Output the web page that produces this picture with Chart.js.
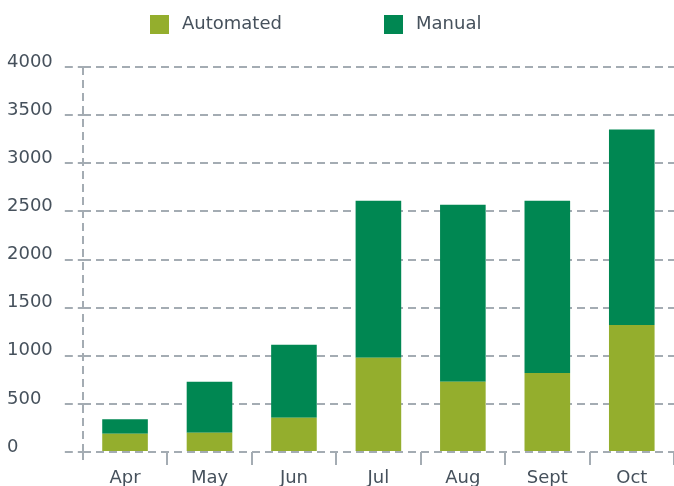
<!DOCTYPE html>
<html>
<head>
<meta charset="utf-8">
<script src="https://cdn.jsdelivr.net/npm/chart.js@4/dist/chart.umd.min.js"></script>
<style>
  html, body { margin: 0; padding: 0; background: #fff; }
</style>
</head>
<body>
<canvas id="chart" width="674" height="486"></canvas>
<script>
const months = ['Apr', 'May', 'Jun', 'Jul', 'Aug', 'Sept', 'Oct'];
const automated = [190, 200, 355, 980, 730, 820, 1320];
const manual = [150, 530, 760, 1630, 1840, 1790, 2030];
const yMax = 4000;
const yStep = 500;

const textColor = '#46515c';
const gridColor = '#a4acb3';
const font = { family: '"DejaVu Sans", sans-serif', size: 18, lineHeight: 1 };

// legend drawn by hand: the two items sit far apart, left of centre
const topLegend = {
  id: 'topLegend',
  afterDraw(chart) {
    const ctx = chart.ctx;
    const starts = [150, 384];
    ctx.save();
    ctx.font = '18px "DejaVu Sans", sans-serif';
    ctx.textBaseline = 'middle';
    chart.data.datasets.forEach((ds, i) => {
      ctx.fillStyle = ds.backgroundColor;
      ctx.fillRect(starts[i], 15, 19, 19);
      ctx.fillStyle = textColor;
      ctx.fillText(ds.label, starts[i] + 32, 24);
    });
    ctx.restore();
  }
};

new Chart(document.getElementById('chart'), {
  type: 'bar',
  data: {
    labels: months,
    datasets: [
      {
        label: 'Automated',
        data: automated,
        backgroundColor: '#94ae2d',
        barPercentage: 0.54,
        categoryPercentage: 1.0
      },
      {
        label: 'Manual',
        data: manual,
        backgroundColor: '#008752',
        barPercentage: 0.54,
        categoryPercentage: 1.0
      }
    ]
  },
  options: {
    responsive: false,
    animation: false,
    devicePixelRatio: 1,
    layout: { padding: { top: 67, left: 7, right: 0, bottom: -5 } },
    plugins: {
      legend: { display: false },
      tooltip: { enabled: false }
    },
    scales: {
      x: {
        stacked: true,
        offset: true,
        ticks: { color: textColor, font: font, padding: 4 },
        grid: {
          offset: true,
          color: c => c.index === 0 ? gridColor : 'rgba(0,0,0,0)',
          lineWidth: 2,
          tickLength: 13,
          tickWidth: 2,
          tickColor: gridColor,
          tickBorderDash: c => c.index === 0 ? [8, 5] : []
        },
        border: { display: false, dash: [8, 5] }
      },
      y: {
        stacked: true,
        min: 0,
        max: yMax,
        ticks: {
          stepSize: yStep,
          callback: v => String(v),
          color: textColor,
          font: font,
          crossAlign: 'far',
          padding: 6,
          labelOffset: -5
        },
        grid: {
          color: gridColor,
          lineWidth: 2,
          tickLength: 18,
          tickWidth: 2,
          tickColor: gridColor,
          tickBorderDash: [8, 5]
        },
        border: { display: false, dash: [8, 5] }
      }
    }
  },
  plugins: [topLegend]
});
</script>
</body>
</html>
